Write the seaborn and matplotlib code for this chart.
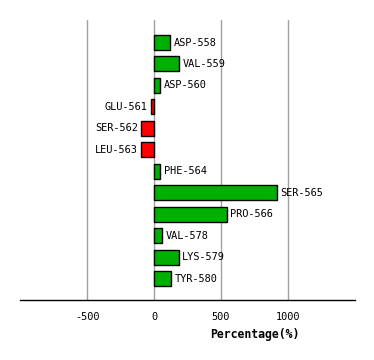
import matplotlib
matplotlib.use("Agg")
import matplotlib.pyplot as plt
import seaborn as sns
import pandas as pd

residues = ["ASP-558", "VAL-559", "ASP-560", "GLU-561", "SER-562", "LEU-563",
            "PHE-564", "SER-565", "PRO-566", "VAL-578", "LYS-579", "TYR-580"]
percent = [123, 190, 48, -25, -97, -97, 48, 918, 543, 63, 183, 130]
xticks = [-500, 0, 500, 1000]

df = pd.DataFrame({"residue": residues, "pct": percent})
df["sign"] = ["pos" if v >= 0 else "neg" for v in df["pct"]]

sns.set_style("white")
plt.rcParams["font.family"] = ["DejaVu Sans Mono", "DejaVu Sans"]

fig = plt.figure(figsize=(3.74, 3.6), dpi=100)
ax = fig.add_axes([20/374, 60/360, 335/374, 280/360])

sns.barplot(data=df, x="pct", y="residue", hue="sign", orient="h",
            palette={"pos": "#00b000", "neg": "#ff0000"}, dodge=False,
            saturation=1, width=0.7, edgecolor="black", linewidth=1,
            legend=False, ax=ax, zorder=3)

for i, v in enumerate(percent):
    if v >= 0:
        ax.text(v + 25, i, residues[i], ha="left", va="center", fontsize=7.4,
                color="black", zorder=4)
    else:
        ax.text(v - 25, i, residues[i], ha="right", va="center", fontsize=7.4,
                color="black", zorder=4)

ax.set_xlim(-1000, 1500)
ax.set_ylim(12.0, -1.05)
ax.set_xticks(xticks)
ax.set_xticklabels([str(t) for t in xticks], fontsize=7.4, color="black")
ax.set_yticks([])
ax.set_ylabel("")
ax.xaxis.grid(True, color="#a0a0a0", linewidth=1, zorder=0)
ax.set_axisbelow(True)
for s in ["top", "left", "right"]:
    ax.spines[s].set_visible(False)
ax.spines["bottom"].set_color("black")
ax.spines["bottom"].set_linewidth(1)
ax.tick_params(axis="x", length=5, color="black", width=1, pad=4)
ax.set_xlabel("Percentage(%)", fontsize=8.3, fontweight="bold", color="black")
ax.xaxis.set_label_coords(0.70, -0.1)

fig.savefig("out.png", dpi=100)
